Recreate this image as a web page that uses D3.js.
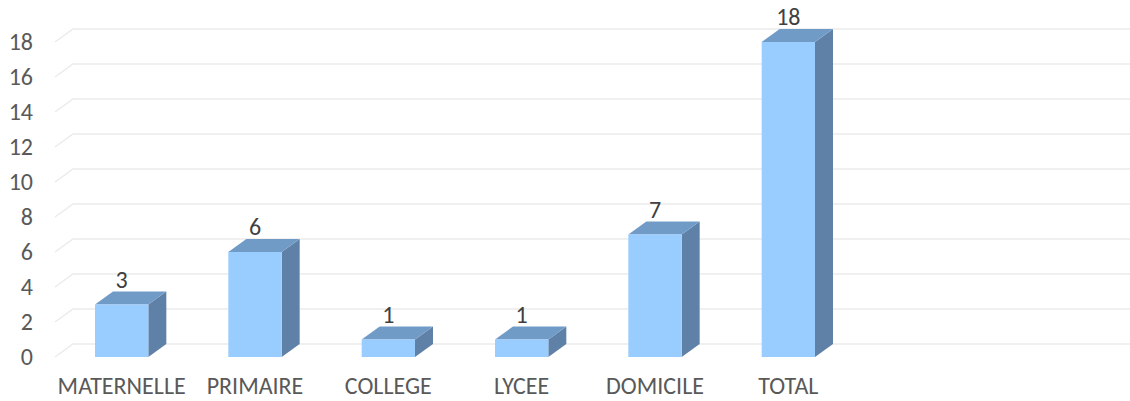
<!DOCTYPE html>
<meta charset="utf-8">
<style>
body { margin: 0; background: #fff; font-family: Carlito, Calibri, "Open Sans", sans-serif; }
.grid { stroke: #ebebeb; stroke-width: 1.5px; fill: none; }
.tick-label { fill: #595959; font-size: 24px; }
.cat-label { fill: #595959; font-size: 24px; }
.val-label { fill: #404040; font-size: 24px; }
</style>
<body>
<script src="https://d3js.org/d3.v7.min.js"></script>
<script>
var categories = ["MATERNELLE", "PRIMAIRE", "COLLEGE", "LYCEE", "DOMICILE", "TOTAL"];
var values = [3, 6, 1, 1, 7, 18];
var yTicks = [0, 2, 4, 6, 8, 10, 12, 14, 16, 18];

var width = 1130,
    height = 401;

// depth of the 3D effect
var dx = 18, dy = -13;

var x = d3.scaleBand()
    .domain(categories)
    .range([55, 855])
    .paddingInner(0.6)
    .paddingOuter(0.3);

var y = d3.scaleLinear()
    .domain([0, 18])
    .range([357, 42]);

var svg = d3.select("body").append("svg")
    .attr("width", width)
    .attr("height", height);

// gridlines: a diagonal on the floor side, then along the back wall
svg.selectAll(".grid")
    .data(yTicks)
  .enter().append("path")
    .attr("class", "grid")
    .attr("d", function(d) {
      var yy = y(d);
      return "M" + 55 + "," + yy + "L" + (55 + dx) + "," + (yy + dy) + "L" + 1130 + "," + (yy + dy);
    });

svg.selectAll(".tick-label")
    .data(yTicks)
  .enter().append("text")
    .attr("class", "tick-label")
    .attr("x", 33)
    .attr("y", function(d) { return y(d); })
    .attr("dy", "0.35em")
    .attr("text-anchor", "end")
    .text(function(d) { return d; });

var bar = svg.selectAll(".bar")
    .data(values)
  .enter().append("g")
    .attr("class", "bar");

// side face
bar.append("path")
    .attr("fill", "#5f81a7")
    .attr("d", function(d, i) {
      var x1 = x(categories[i]) + x.bandwidth(), y0 = y(0), y1 = y(d);
      return "M" + x1 + "," + y0 + "L" + x1 + "," + y1 +
        "L" + (x1 + dx) + "," + (y1 + dy) + "L" + (x1 + dx) + "," + (y0 + dy) + "Z";
    });

// top face
bar.append("path")
    .attr("fill", "#709bc7")
    .attr("d", function(d, i) {
      var x0 = x(categories[i]), x1 = x0 + x.bandwidth(), y1 = y(d);
      return "M" + x0 + "," + y1 + "L" + x1 + "," + y1 +
        "L" + (x1 + dx) + "," + (y1 + dy) + "L" + (x0 + dx) + "," + (y1 + dy) + "Z";
    });

// front face
bar.append("rect")
    .attr("fill", "#99ccff")
    .attr("x", function(d, i) { return x(categories[i]); })
    .attr("y", function(d) { return y(d); })
    .attr("width", x.bandwidth())
    .attr("height", function(d) { return y(0) - y(d); });

bar.append("text")
    .attr("class", "val-label")
    .attr("x", function(d, i) { return x(categories[i]) + x.bandwidth() / 2; })
    .attr("y", function(d) { return y(d) + dy - 4; })
    .attr("text-anchor", "middle")
    .text(function(d) { return d; });

svg.selectAll(".cat-label")
    .data(categories)
  .enter().append("text")
    .attr("class", "cat-label")
    .attr("x", function(d) { return x(d) + x.bandwidth() / 2; })
    .attr("y", 394)
    .attr("text-anchor", "middle")
    .text(function(d) { return d; });
</script>
